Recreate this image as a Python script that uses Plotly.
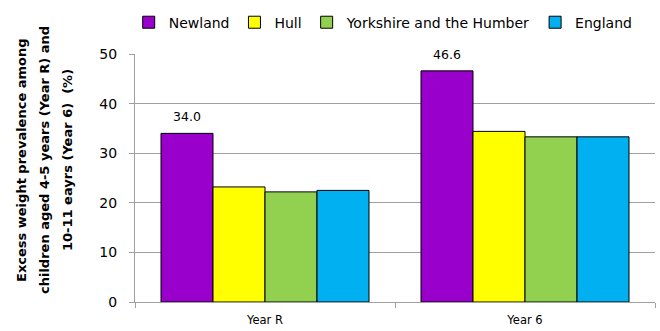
import plotly.graph_objects as go

categories = ["Year R", "Year 6"]
areas = ["Newland", "Hull", "Yorkshire and the Humber", "England"]
newland = [34.0, 46.6]
hull = [23.2, 34.4]
yorkshire = [22.2, 33.3]
england = [22.5, 33.3]
colors = ["#9900CC", "#FFFF00", "#92D050", "#00B0F0"]
title_lines = [
    "Excess weight prevalence among",
    "children aged 4-5 years (Year R) and",
    "10-11 eayrs (Year 6)  (%)",
]

series = [newland, hull, yorkshire, england]
FONT = "DejaVu Sans"
BARGAP = 0.2

W, H = 660, 331
M = dict(l=135, r=5, t=54, b=29)
plot_w = W - M["l"] - M["r"]
plot_h = H - M["t"] - M["b"]

fig = go.Figure()
for name, vals, col in zip(areas, series, colors):
    fig.add_trace(go.Bar(
        name=name,
        x=categories,
        y=vals,
        marker=dict(color=col, line=dict(color="#000000", width=1)),
    ))

# value labels above the Newland bars (first bar of each group)
n = len(series)
bar_w = (1 - BARGAP) / n
newland_offset = -(1 - BARGAP) / 2 + bar_w / 2
for i, v in enumerate(newland):
    fig.add_annotation(
        x=i + newland_offset, y=v, xref="x", yref="y",
        text=f"{v:.1f}", showarrow=False, yanchor="bottom", yshift=7,
        font=dict(size=12.5, family=FONT, color="#000000"),
    )

# three-line y-axis title, one rotated line per annotation (pixel -> paper)
for k, line in enumerate(title_lines):
    px = 21 + 23 * k
    py = 160
    fig.add_annotation(
        x=(px - M["l"]) / plot_w, y=(H - M["b"] - py) / plot_h,
        xref="paper", yref="paper",
        text=f"<b>{line}</b>", showarrow=False, textangle=-90,
        xanchor="center", yanchor="middle",
        font=dict(size=13, family=FONT, color="#000000"),
    )

fig.update_layout(
    width=W, height=H,
    margin=M,
    paper_bgcolor="white", plot_bgcolor="white",
    barmode="group", bargap=BARGAP, bargroupgap=0,
    font=dict(family=FONT, color="#000000"),
    showlegend=True,
    legend=dict(
        orientation="h", xref="container", yref="container",
        x=0.195, y=0.98, xanchor="left", yanchor="top",
        font=dict(size=14), itemwidth=30, tracegroupgap=0,
        bgcolor="rgba(0,0,0,0)",
    ),
    xaxis=dict(
        showline=True, linecolor="#A0A0A0", linewidth=1,
        ticks="outside", tickson="boundaries", ticklen=5, tickcolor="#A0A0A0",
        tickfont=dict(size=11.5), showgrid=False, ticklabelstandoff=7,
    ),
    yaxis=dict(
        range=[0, 50], dtick=10,
        showline=True, linecolor="#A0A0A0", linewidth=1,
        ticks="outside", ticklen=5, tickcolor="#A0A0A0",
        showgrid=True, gridcolor="#A0A0A0", gridwidth=1,
        tickfont=dict(size=14), ticklabelstandoff=9,
        zeroline=False,
    ),
)

fig.write_html("out.html")
